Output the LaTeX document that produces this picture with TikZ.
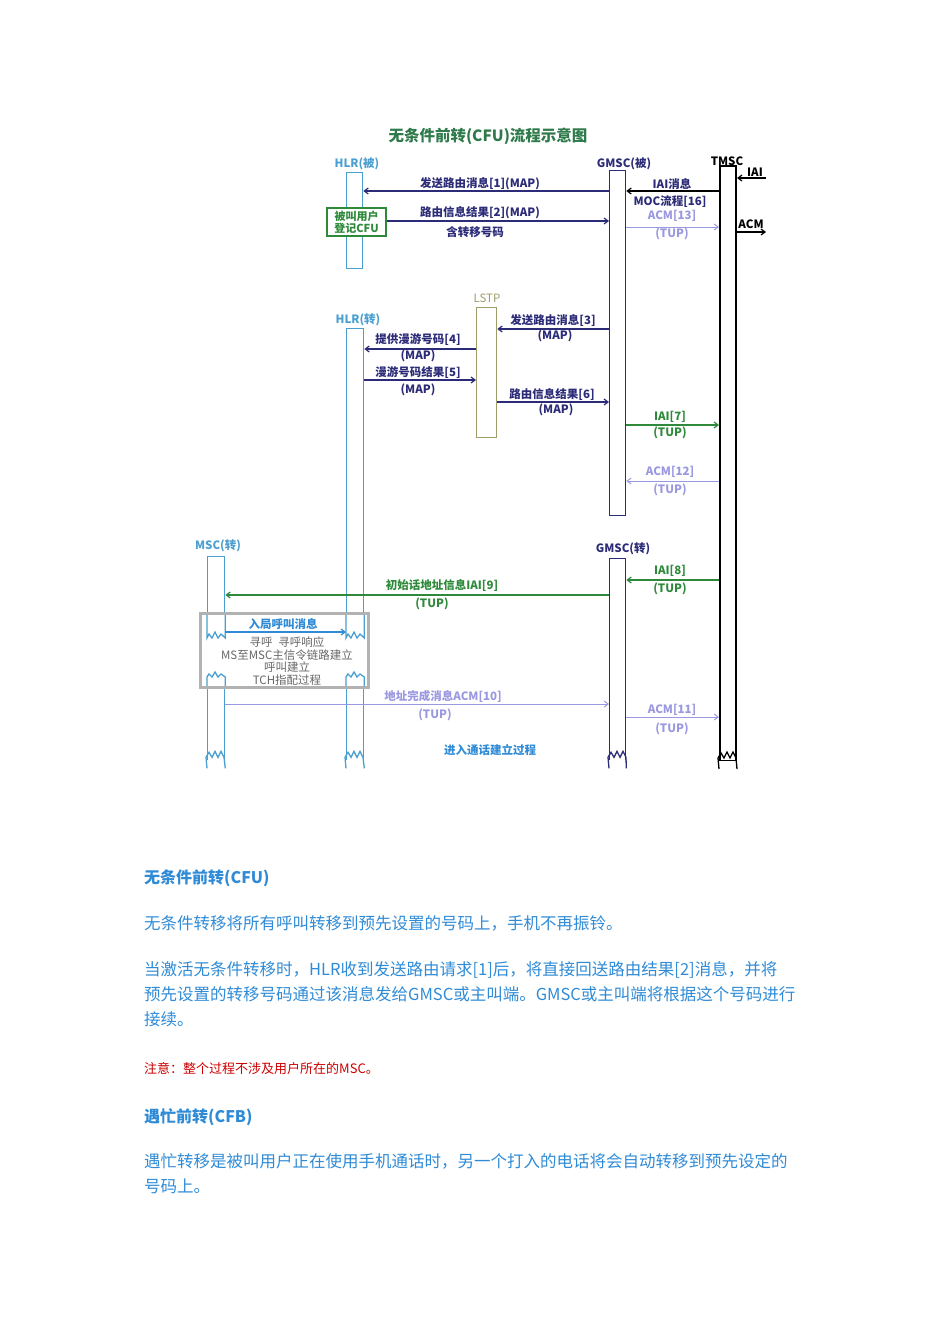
\documentclass[tikz,border=0pt]{standalone}
\usepackage{fontspec}
\setmainfont{Noto Sans CJK SC}
\usetikzlibrary{arrows.meta}
\definecolor{lb}{HTML}{4A9FD0}
\definecolor{nv}{HTML}{2B2B78}
\definecolor{gr}{HTML}{2E8A3A}
\definecolor{lp}{HTML}{9A98E0}
\definecolor{ol}{HTML}{9E9E6A}
\definecolor{tb}{HTML}{2F8BD6}
\definecolor{ttl}{HTML}{2E7A4A}
\begin{document}
\begin{tikzpicture}[x=1pt,y=-1pt,
  life/.style={draw,line width=1.3pt,fill=white,inner sep=0,anchor=north west},
  msg/.style={line width=1.2pt,-{Straight Barb[length=4pt,width=6pt]}},
  lbl/.style={font=\fontsize{11.5}{13}\selectfont\bfseries,inner sep=0},
  hd/.style={font=\fontsize{11.5}{13}\selectfont\bfseries,inner sep=0},
  para/.style={font=\fontsize{16.5}{25}\selectfont,text=tb,anchor=north west,inner sep=0,align=left}]
\useasboundingbox (0,0) rectangle (950,1344);
\node[font=\fontsize{15.5}{17}\selectfont\bfseries,text=ttl] (title) at (488,136) {无条件前转(CFU)流程示意图};
% lifelines
\node[life,draw=lb,minimum width=16pt,minimum height=96pt] (hlrb) at (346,172) {};
\node[life,draw=nv,minimum width=16pt,minimum height=345pt] (gmscb) at (609,170) {};
\node[life,draw=black,line width=2pt,minimum width=16pt,minimum height=595pt] (tmsc) at (719,165) {};
\node[life,draw=lb,minimum width=17pt,minimum height=432pt] (hlrz) at (346,328) {};
\node[life,draw=ol,minimum width=20pt,minimum height=130pt] (lstp) at (476,307) {};
\node[life,draw=lb,minimum width=17pt,minimum height=204pt] (mscz) at (207,556) {};
\node[life,draw=nv,minimum width=16pt,minimum height=202pt] (gmscz) at (609,558) {};
% zigzag ends
\foreach \n/\c in {hlrz/lb,mscz/lb,gmscz/nv,tmsc/black}{
  \fill[white] ([xshift=-1.5pt,yshift=1.5pt]\n.south west) rectangle ([xshift=1.5pt,yshift=-7pt]\n.south east);
  \draw[\c,line width=1.3pt] ([yshift=-7pt]\n.south west) -- ([xshift=-1pt,yshift=4pt]\n.south west) -- ++(3,-5) -- ++(3,5) -- ++(3,-6) -- ++(3,6) -- ++(3,-6) -- ++(3,6) -- ([yshift=-7pt]\n.south east);}
% labels of lifelines
\node[hd,text=lb] (l1) at (357,164) {HLR(被)};
\node[hd,text=nv] (l2) at (624,164) {GMSC(被)};
\node[hd,text=black] (l3) at (727,161) {TMSC};
\node[hd,text=ol,font=\fontsize{11.5}{13}\selectfont] (l4) at (487,298) {LSTP};
\node[hd,text=lb] (l5) at (358,320) {HLR(转)};
\node[hd,text=lb] (l6) at (218,546) {MSC(转)};
\node[hd,text=nv] (l7) at (623,549) {GMSC(转)};
% green box
\node[draw=gr,line width=1.3pt,fill=white,text=gr,align=center,minimum width=59pt,minimum height=28pt,inner sep=0,font=\fontsize{11}{12}\selectfont\bfseries] (cfu) at (356.5,222) {被叫用户\\登记CFU};
\coordinate (inR) at (766,178);
\coordinate (outR) at (766,232);
% messages
\draw[msg,nv] (gmscb.west |- 0,191) -- (hlrb.east |- 0,191);
\node[lbl,text=nv] (t1) at (480,184) {发送路由消息[1](MAP)};
\draw[msg,black] (tmsc.west |- 0,191) -- (gmscb.east |- 0,191);
\node[lbl,text=nv] (t16a) at (672,184) {IAI消息};
\node[lbl,text=nv] (t16b) at (670,202) {MOC流程[16]};
\draw[msg,black] (inR) -- (tmsc.east |- inR);
\node[lbl,text=black] (tiai) at (755,172) {IAI};
\draw[msg,nv] (cfu.east |- 0,221) -- (gmscb.west |- 0,221);
\node[lbl,text=nv] (t2) at (480,213) {路由信息结果[2](MAP)};
\node[lbl,text=nv] (t2b) at (475,232) {含转移号码};
\draw[msg,lp,line width=1pt] (gmscb.east |- 0,227) -- (tmsc.west |- 0,227);
\node[lbl,text=lp] (t13) at (672,216) {ACM[13]};
\node[lbl,text=lp] (t13b) at (672,234) {(TUP)};
\draw[msg,black] (tmsc.east |- outR) -- (outR);
\node[lbl,text=black] (tacm) at (751,224) {ACM};
\draw[msg,nv] (gmscb.west |- 0,329) -- (lstp.east |- 0,329);
\node[lbl,text=nv] (t3) at (553,321) {发送路由消息[3]};
\node[lbl,text=nv] (t3b) at (555,336) {(MAP)};
\draw[msg,nv] (lstp.west |- 0,349) -- (hlrz.east |- 0,349);
\node[lbl,text=nv] (t4) at (418,340) {提供漫游号码[4]};
\node[lbl,text=nv] (t4b) at (418,356) {(MAP)};
\draw[msg,nv] (hlrz.east |- 0,380) -- (lstp.west |- 0,380);
\node[lbl,text=nv] (t5) at (418,373) {漫游号码结果[5]};
\node[lbl,text=nv] (t5b) at (418,390) {(MAP)};
\draw[msg,nv] (lstp.east |- 0,402) -- (gmscb.west |- 0,402);
\node[lbl,text=nv] (t6) at (552,395) {路由信息结果[6]};
\node[lbl,text=nv] (t6b) at (556,410) {(MAP)};
\draw[msg,gr] (gmscb.east |- 0,425) -- (tmsc.west |- 0,425);
\node[lbl,text=gr] (t7) at (670,417) {IAI[7]};
\node[lbl,text=gr] (t7b) at (670,433) {(TUP)};
\draw[msg,lp,line width=1pt] (tmsc.west |- 0,481) -- (gmscb.east |- 0,481);
\node[lbl,text=lp] (t12) at (670,472) {ACM[12]};
\node[lbl,text=lp] (t12b) at (670,490) {(TUP)};
\draw[msg,gr] (tmsc.west |- 0,580) -- (gmscz.east |- 0,580);
\node[lbl,text=gr] (t8) at (670,571) {IAI[8]};
\node[lbl,text=gr] (t8b) at (670,589) {(TUP)};
\draw[msg,gr] (gmscz.west |- 0,595) -- (mscz.east |- 0,595);
\node[lbl,text=gr] (t9) at (442,586) {初始话地址信息IAI[9]};
\node[lbl,text=gr] (t9b) at (432,604) {(TUP)};
% gray box
\node[draw=gray!60,line width=3pt,fill=white,minimum width=168pt,minimum height=74pt,inner sep=0] (gbox) at (284.5,650) {};
\foreach \n in {mscz,hlrz}{
  \draw[lb,line width=1.3pt] (\n.west |- 0,615) -- (\n.west |- 0,638) -- ++(2,-4) -- ++(3,4) -- ++(3,-6) -- ++(3,6) -- ++(3,-4) -- (\n.east |- 0,638) -- (\n.east |- 0,615);
  \draw[lb,line width=1.3pt] (\n.west |- 0,686) -- (\n.west |- 0,677) -- ++(2,-3) -- ++(3,3) -- ++(3,-5) -- ++(3,5) -- ++(3,-3) -- (\n.east |- 0,677) -- (\n.east |- 0,686);}
\draw[msg,tb] (mscz.east |- 0,632) -- (hlrz.west |- 0,632);
\node[lbl,text=tb] (tin) at (283,624) {入局呼叫消息};
\node[font=\fontsize{11.5}{12.5}\selectfont,text=gray!80!black,align=center,inner sep=0] (tbox) at (287,661) {寻呼\enspace 寻呼响应\\MS至MSC主信令链路建立\\呼叫建立\\TCH指配过程};
\draw[msg,lp,line width=1pt] (mscz.east |- 0,704) -- (gmscz.west |- 0,704);
\node[lbl,text=lp] (t10) at (443,696) {地址完成消息ACM[10]};
\node[lbl,text=lp] (t10b) at (435,715) {(TUP)};
\draw[msg,lp,line width=1pt] (gmscz.east |- 0,717) -- (tmsc.west |- 0,717);
\node[lbl,text=lp] (t11) at (672,710) {ACM[11]};
\node[lbl,text=lp] (t11b) at (672,729) {(TUP)};
\node[lbl,text=tb] (tend) at (490,750) {进入通话建立过程};
% text below
\node[para,font=\fontsize{16}{17}\selectfont\bfseries] (h1) at (144,870) {无条件前转(CFU)};
\node[para] (p1) at (144,915) {无条件转移将所有呼叫转移到预先设置的号码上，手机不再振铃。};
\node[para] (p2) at (144,961) {当激活无条件转移时，HLR收到发送路由请求[1]后，将直接回送路由结果[2]消息，并将\\预先设置的转移号码通过该消息发给GMSC或主叫端。GMSC或主叫端将根据这个号码进行\\接续。};
\node[para,text=red!80!black,font=\fontsize{13}{14}\selectfont] (p3) at (144,1062) {注意：整个过程不涉及用户所在的MSC。};
\node[para,font=\fontsize{16}{17}\selectfont\bfseries] (h2) at (144,1108) {遇忙前转(CFB)};
\node[para] (p4) at (144,1153) {遇忙转移是被叫用户正在使用手机通话时，另一个打入的电话将会自动转移到预先设定的\\号码上。};
\end{tikzpicture}
\end{document}
